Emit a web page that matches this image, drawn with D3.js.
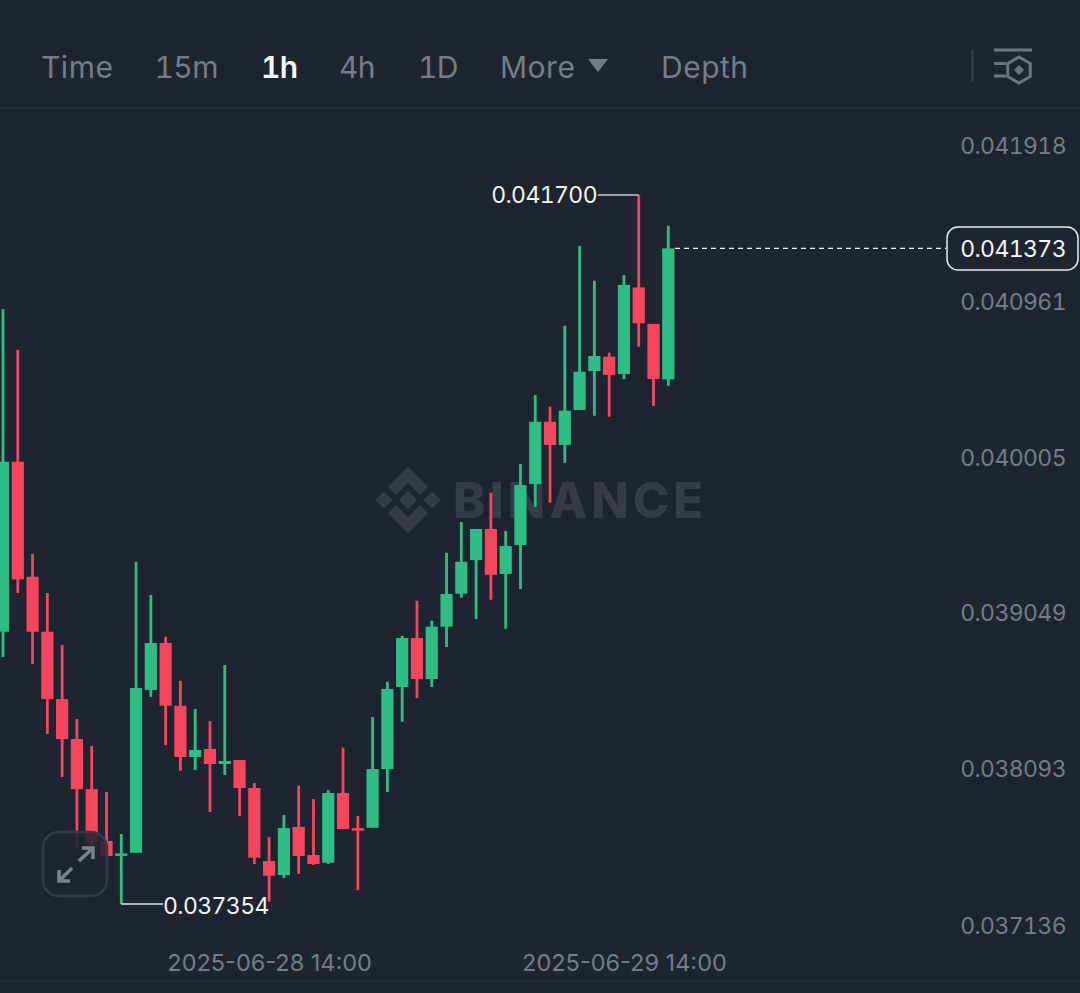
<!DOCTYPE html>
<html>
<head>
<meta charset="utf-8">
<script src="https://cdn.jsdelivr.net/npm/d3@7"></script>
<style>
  html, body { margin: 0; padding: 0; background: #1e2530; overflow: hidden; }
  svg { display: block; font-family: Inter, "Noto Sans", sans-serif; font-variant-numeric: tabular-nums; font-feature-settings: "tnum" 1; }
  .time-axis text { font-variant-numeric: normal; font-feature-settings: normal; }
</style>
</head>
<body>
<div id="chart"></div>
<script>
// hourly candles, first one is 2025-06-27 20:00 (prices in 1e-6 units)
const opens = [39023,40065,39360,39023,38610,38365,38058,37740,37648,37668,38666,38954,38569,38255,38304,38212,38236,38065,37617,37531,37826,37654,37607,38034,37819,37821,38181,38684,38984,38733,39054,39256,39462,39653,39377,39555,39928,40310,40168,40382,40621,40709,40603,41134,40910,40570]
const highs = [41001,40750,39499,39260,38941,38488,38322,38040,37783,39452,39248,38991,38722,38549,38475,38819,38236,38095,37764,37899,38079,37997,38052,38312,37893,38500,38716,38997,39213,39090,39507,39696,39653,39875,39640,40051,40474,40403,40899,41388,41175,40734,41210,41700,40910,41512]
const lows = [38868,39260,38825,38396,38132,37703,37709,37648,37354,37668,38623,38328,38171,38175,37918,38144,37893,37599,37368,37513,37538,37593,37599,37813,37439,37821,38040,38471,38616,38684,38929,39231,39101,39219,39041,39285,39788,39814,40059,40382,40347,40341,40572,40770,40407,40531]
const closes = [40065,39344,39023,38610,38365,38058,37734,37648,37664,38678,38954,38569,38255,38298,38212,38230,38065,37637,37527,37819,37648,37599,38034,37813,37803,38181,38672,38984,38733,39054,39254,39452,39653,39372,39548,39922,40310,40168,40378,40617,40713,40597,41149,40914,40572,41373]

const priceTicks = [0.041918, 0.040961, 0.040005, 0.039049, 0.038093, 0.037136]
const timeTicks = ["2025-06-28T14:00", "2025-06-29T14:00"]
const menuItems = ["Time", "15m", "1h", "4h", "1D", "More", "Depth"]
const menuX = [41, 154.5, 261, 339, 418, 500, 661]

const highPrice = 0.0417
const lowPrice = 0.037354
const lastPrice = 0.041373

const width = 1080
const height = 993
const labelSize = 23
const labelSpacing = -0.6
const colors = {
  bg: "#1e2530", up: "#2ebd85", down: "#f6465d", text: "#757c89", textBright: "#f4f5f6",
  line: "#2b313c", mark: "#363b46"
}

const startTime = new Date("2025-06-27T20:00")
const dates = opens.map((d, i) => d3.timeHour.offset(startTime, i))

const x = d3.scaleTime().domain([dates[0], dates[dates.length - 1]]).range([3, 668.3])
const y = d3.scaleLinear().domain([0.037136, 0.041918]).range([939.5, 159.5])
const price = v => v * 1e-6

const svg = d3.select("#chart").append("svg")
  .attr("width", width)
  .attr("height", height)
  .attr("viewBox", [0, 0, width, height])

svg.append("rect").attr("width", width).attr("height", height).attr("fill", colors.bg)

// Header
const header = svg.append("g")
header.append("line").attr("x1", 0).attr("x2", width).attr("y1", 108).attr("y2", 108)
  .attr("stroke", colors.line).attr("stroke-width", 2)

header.selectAll("text.menu")
  .data(menuItems)
  .enter()
  .append("text")
  .attr("class", "menu")
  .attr("x", (d, i) => menuX[i])
  .attr("y", 78)
  .attr("font-size", 30)
  .attr("letter-spacing", d => /\d/.test(d) ? -0.6 : 0.5)
  .attr("font-weight", d => d === "1h" ? 600 : 400)
  .attr("fill", d => d === "1h" ? colors.textBright : colors.text)
  .text(d => d)

header.append("path").attr("d", "M588,59H608L598,72Z").attr("fill", colors.text)
header.append("line").attr("x1", 972.5).attr("x2", 972.5).attr("y1", 50).attr("y2", 82)
  .attr("stroke", "#3a404b").attr("stroke-width", 2)

const icon = header.append("g").attr("stroke", "#6d7481").attr("stroke-width", 3).attr("fill", "none")
icon.append("path").attr("d", "M994,50H1032M994,63.5H1006M994,76H1006")
icon.append("path").attr("d", d3.line()(d3.range(6).map(i => {
  const a = Math.PI / 3 * i + Math.PI / 6
  return [1019 + 13 * Math.cos(a), 70 + 13 * Math.sin(a)]
})) + "Z")
icon.append("path").attr("d", "M1019,65L1024,70L1019,75L1014,70Z").attr("fill", "#6d7481").attr("stroke", "none")

// Watermark
const mark = svg.append("g").attr("transform", "translate(408,500)").attr("fill", colors.mark)
mark.append("path").attr("d", [
  "M0,-9L9,0L0,9L-9,0Z",
  "M-33,0L-24,-8.5L-15.5,0L-24,8.5Z",
  "M33,0L24,-8.5L15.5,0L24,8.5Z",
  "M0,-33L20,-13L12,-5L0,-17L-12,-5L-20,-13Z",
  "M0,33L20,13L12,5L0,17L-12,5L-20,13Z"
].join(""))
svg.append("text")
  .attr("x", 453).attr("y", 518)
  .attr("font-size", 49).attr("font-weight", 800).attr("letter-spacing", 4.1)
  .attr("fill", colors.mark)
  .text("BINANCE")

// Candles
const candle = svg.selectAll(".candle")
  .data(dates)
  .enter()
  .append("g")
  .attr("class", "candle")
  .attr("fill", (d, i) => closes[i] >= opens[i] ? colors.up : colors.down)

candle.append("rect")
  .attr("x", d => x(d) - 1.4)
  .attr("width", 2.8)
  .attr("y", (d, i) => y(price(highs[i])))
  .attr("height", (d, i) => y(price(lows[i])) - y(price(highs[i])))

candle.append("rect")
  .attr("x", d => x(d) - 6.1)
  .attr("width", 12.2)
  .attr("y", (d, i) => y(price(Math.max(opens[i], closes[i]))))
  .attr("height", (d, i) => Math.abs(y(price(opens[i])) - y(price(closes[i]))))

// High / low callouts
const highX = x(dates[closes.indexOf(40914)])
const lowX = x(dates[lows.indexOf(37354)])

svg.append("path")
  .attr("d", `M598,${y(highPrice)}H${highX}`)
  .attr("stroke", "#c9cbd0").attr("stroke-width", 1.5).attr("fill", "none")
svg.append("text")
  .attr("x", 597).attr("y", y(highPrice) + 7.5)
  .attr("text-anchor", "end")
  .attr("font-size", labelSize).attr("letter-spacing", labelSpacing).attr("fill", colors.textBright)
  .text(d3.format(".6f")(highPrice))

svg.append("path")
  .attr("d", `M${lowX},${y(lowPrice)}H163`)
  .attr("stroke", "#e8e9ea").attr("stroke-width", 1.5).attr("fill", "none")
svg.append("text")
  .attr("x", 163).attr("y", y(lowPrice) + 10)
  .attr("font-size", labelSize).attr("letter-spacing", labelSpacing).attr("fill", colors.textBright)
  .text(d3.format(".6f")(lowPrice))

// Axes
const yAxis = d3.axisLeft(y).tickValues(priceTicks).tickSize(0).tickPadding(0).tickFormat(d3.format(".6f"))
const yAxisG = svg.append("g").attr("transform", "translate(1066,0)").call(yAxis)
yAxisG.select(".domain").remove()
yAxisG.selectAll("text")
  .attr("dy", -14.7 + 8.2)
  .attr("font-size", labelSize)
  .attr("letter-spacing", labelSpacing)
  .attr("font-family", "Inter")
  .attr("fill", colors.text)

const xAxis = d3.axisBottom(x)
  .tickValues(timeTicks.map(d => new Date(d)))
  .tickSize(0).tickPadding(0)
  .tickFormat(d3.timeFormat("%Y-%m-%d %H:%M"))
const xAxisG = svg.append("g").attr("class", "time-axis").attr("transform", "translate(0,954)").call(xAxis)
xAxisG.select(".domain").remove()
xAxisG.selectAll("text")
  .attr("font-size", 23.5)
  .attr("font-family", "Inter")
  .attr("fill", colors.text)

svg.append("line").attr("x1", 0).attr("x2", width).attr("y1", 981).attr("y2", 981)
  .attr("stroke", colors.line).attr("stroke-width", 1.5)

// Last price
svg.append("line")
  .attr("x1", 675).attr("x2", 946)
  .attr("y1", y(lastPrice)).attr("y2", y(lastPrice))
  .attr("stroke", "#f4f5f6").attr("stroke-width", 1.2).attr("stroke-dasharray", "5,4")
svg.append("rect")
  .attr("x", 947).attr("y", 227).attr("width", 131).attr("height", 43).attr("rx", 11)
  .attr("fill", colors.bg).attr("stroke", "#e8e9ea").attr("stroke-width", 1.5)
svg.append("text")
  .attr("x", 1066).attr("y", y(lastPrice) + 8.7)
  .attr("text-anchor", "end")
  .attr("font-size", labelSize).attr("letter-spacing", labelSpacing).attr("fill", colors.textBright)
  .text(d3.format(".6f")(lastPrice))

// Fullscreen button
const btn = svg.append("g")
btn.append("rect")
  .attr("x", 43).attr("y", 832).attr("width", 64).attr("height", 64).attr("rx", 16)
  .attr("fill", colors.bg).attr("fill-opacity", 0.85)
  .attr("stroke", "#343a45").attr("stroke-width", 2.5)
btn.append("path")
  .attr("d", "M59,881L72,868M59,870V881H70M79,861L93,848M82,848H93V859")
  .attr("fill", "none").attr("stroke", "#7b828e").attr("stroke-width", 3.5)
</script>
</body>
</html>
